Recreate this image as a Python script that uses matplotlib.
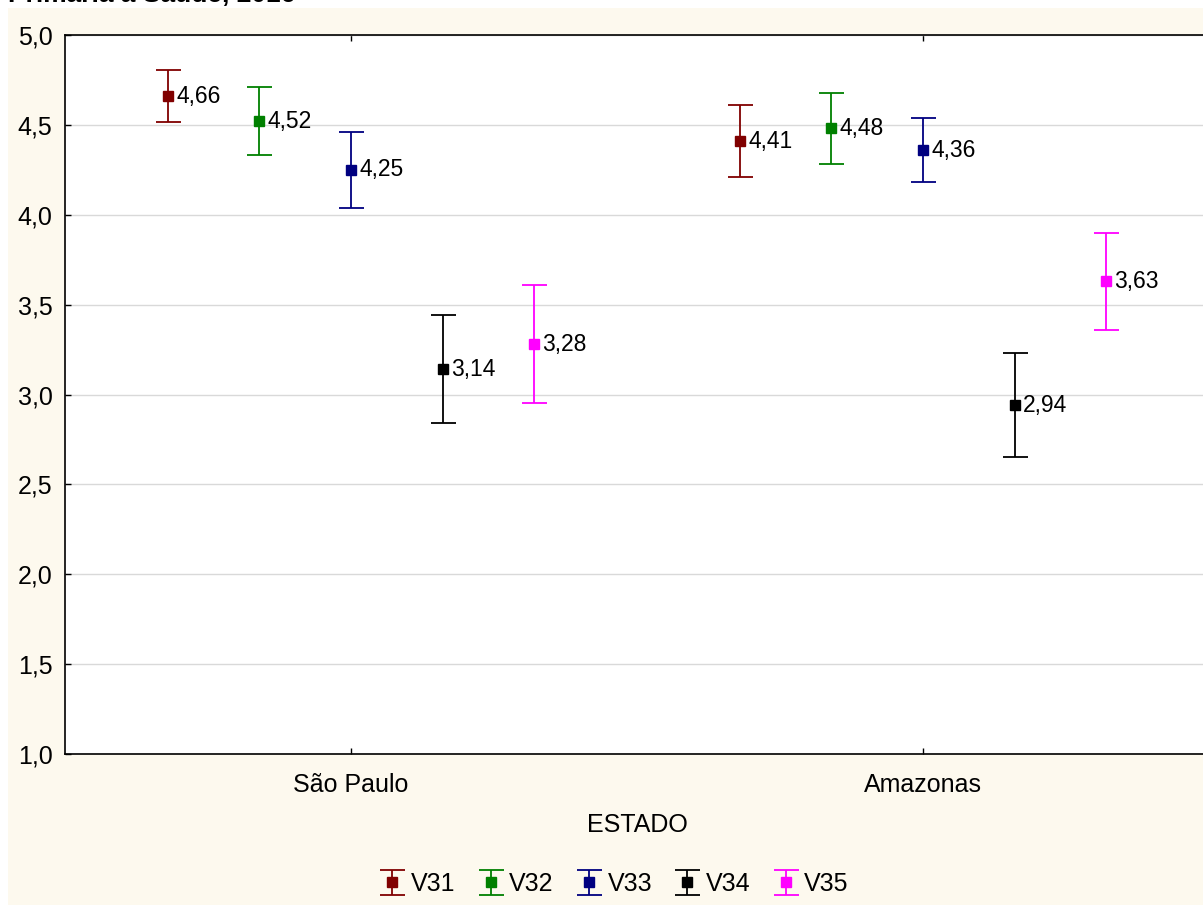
import numpy as np
import matplotlib
matplotlib.use('Agg')
from matplotlib import pyplot as plt
from matplotlib.patches import Rectangle

estados = ["São Paulo", "Amazonas"]
variaveis = ["V31", "V32", "V33", "V34", "V35"]
cores = ["#800000", "#008000", "#000080", "#000000", "#FF00FF"]

# médias por variável: [São Paulo, Amazonas]
medias = {
    "V31": [4.66, 4.41],
    "V32": [4.52, 4.48],
    "V33": [4.25, 4.36],
    "V34": [3.14, 2.94],
    "V35": [3.28, 3.63],
}
# meia-largura dos intervalos
erros = {
    "V31": [0.145, 0.20],
    "V32": [0.19, 0.20],
    "V33": [0.21, 0.18],
    "V34": [0.30, 0.29],
    "V35": [0.33, 0.27],
}

plt.rcParams['font.family'] = ['Liberation Sans', 'DejaVu Sans']

fig = plt.figure(figsize=(12.03, 9.07), dpi=100)
fig.patch.set_facecolor('white')
fig.patches.append(Rectangle((8 / 1203, 2 / 907), 1, 897 / 907, transform=fig.transFigure,
                             facecolor='#FDF9EE', edgecolor='none', zorder=-5))

# título cortado na borda superior, como na imagem original
fig.text(8 / 1203, 1 - 2 / 907, "Primária à Saúde, 2016", fontsize=19, fontweight='bold',
         va='baseline', ha='left')

ax = fig.add_axes([65 / 1203, 1 - 754 / 907, 1144 / 1203, 719 / 907])
ax.set_zorder(2)
ax.set_facecolor('white')

x = np.arange(len(estados))
passo = 0.16
for i, v in enumerate(variaveis):
    xs = x + (i - 2) * passo
    ax.errorbar(xs, medias[v], yerr=erros[v], fmt='s', color=cores[i], ms=7,
                capsize=9, elinewidth=1.3, capthick=1.3, label=v, zorder=3)
    for xi, yi in zip(xs, medias[v]):
        ax.annotate(f"{yi:.2f}".replace('.', ','), (xi, yi), xytext=(6, 0),
                    textcoords='offset points', va='center', ha='left', fontsize=16.5)

ax.set_xlim(-0.5, 1.5)
ax.set_ylim(1.0, 5.0)
ax.set_yticks(np.arange(1.0, 5.01, 0.5))
ax.set_yticklabels([f"{t:.1f}".replace('.', ',') for t in np.arange(1.0, 5.01, 0.5)], fontsize=18)
ax.set_xticks(x)
ax.set_xticklabels(estados, fontsize=18)
ax.tick_params(direction='in', length=4, top=True, right=True, width=1)
ax.tick_params(axis='y', pad=9)
ax.tick_params(axis='x', pad=14)
ax.grid(axis='y', color='#d9d9d9', lw=1)
ax.set_axisbelow(True)
for s in ax.spines.values():
    s.set_linewidth(1.2)
ax.set_xlabel("ESTADO", fontsize=18, labelpad=11)

leg = fig.legend(loc='center', bbox_to_anchor=(615 / 1203, 1 - 884 / 907), ncol=5,
                 frameon=False, fontsize=18, handletextpad=0.3, columnspacing=0.95,
                 handlelength=0.9)

plt.savefig('out.png', dpi=100)
